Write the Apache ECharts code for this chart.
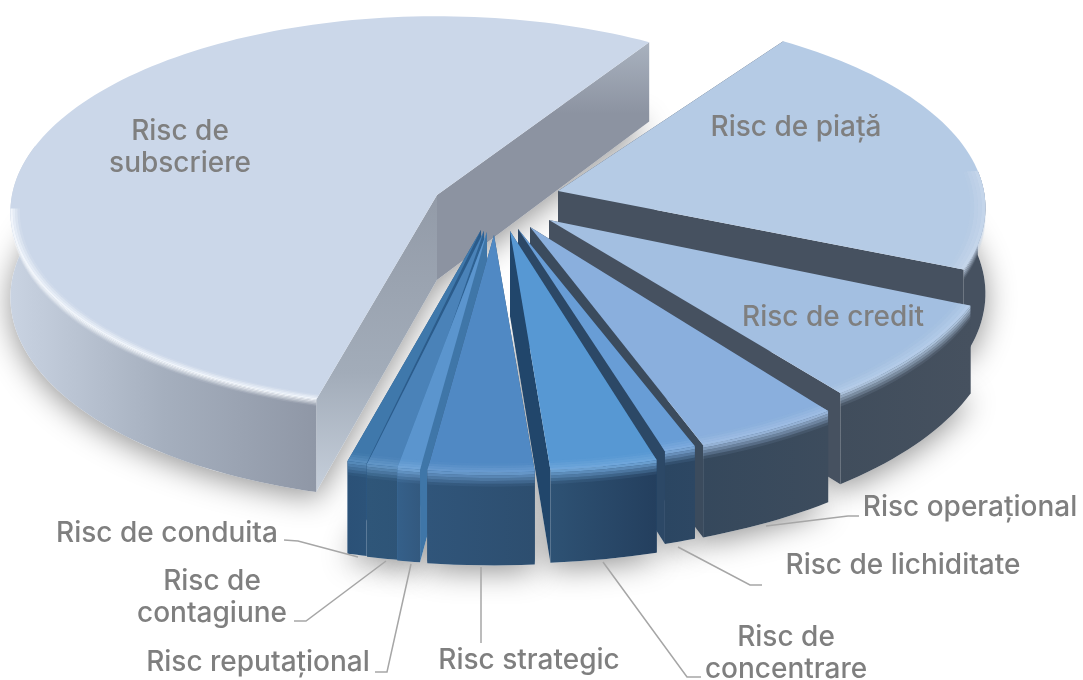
<!DOCTYPE html>
<html>
<head>
<meta charset="utf-8">
<style>html,body{margin:0;padding:0;background:#fff}#container{width:1083px;height:680px}</style>
<script src="https://cdn.jsdelivr.net/npm/echarts@6/dist/echarts.min.js"></script>
</head>
<body>
<div id="container"></div>
<script>
var dom = document.getElementById('container');
var myChart = echarts.init(dom, null, { renderer: 'canvas', useDirtyRect: false });

// clockwise on screen, starting at the far edge of Risc de piata
var categories = ['Risc de piață', 'Risc de credit', 'Risc operațional', 'Risc de lichiditate', 'Risc de concentrare',
    'Risc strategic', 'Risc reputațional', 'Risc de contagiune', 'Risc de conduita', 'Risc de subscriere'];
var shareValues = [21.8, 7.9, 4.6, 1.0, 3.3, 3.3, 0.7, 1.1, 0.6, 54.8];

// tilted disc
var startAngle = -55.5;
var discX = 428, discY = 195.5, tilt = 0.086, depth = 85;

// where each exploded slice has its tip, its size and small angle correction
var tipX = [558, 549, 530, 518, 510, 494, 487, 484, 481, 437];
var tipY = [191, 220, 227, 229, 231, 235, 232, 231, 230, 195];
var sliceScale = [0.995, 1.04, 1.09, 1.09, 1.12, 1.11, 1.12, 1.12, 1.12, 0.993];
var angleNudge = [0, 1, 2.08, 1.62, 2.12, 2.04, 2, 1.1, 0.8, 1.12];
var paintOrder = [9, 0, 1, 2, 3, 4, 8, 7, 6, 5];

var topColors = ['#b5cbe5', '#a3bfe1', '#8aafdd', '#689dd6', '#5798d3', '#5089c4', '#5b95ce', '#4a82b8', '#3f78ab', '#cbd7e9'];
var rimColors = ['#c6d6ea', '#b6cde8', '#a0bee3', '#82aedf', '#72a8dc', '#6b9dd0', '#73a6d8', '#6598c8', '#5a8fbf', '#f6f9fd'];
var bevelSize = [10, 13, 13, 13, 13, 13, 13, 13, 13, 6];
var faceColors = ['#465160', '#465160', '#3b4b5d', '#2c4866', '#21466b', '#2f5274', '#3f76a8', '#2e6192', '#2b5b8a', '#9ea8b5'];
var endFaceColors = ['#465160', '#465160', '#3b4b5d', '#2c4866', '#21466b', '#2f5274', '#3f76a8', '#2e6192', '#2b5b8a', '#8b92a0'];
var wallColors = [
    ['#465160', '#465160'], ['#404d5c', '#46515f'], ['#35485c', '#3d4c5d'], ['#2b4662', '#2d4763'], ['#2e5274', '#243f5e'],
    ['#30557a', '#2d4e6f'], ['#35608a', '#33597f'], ['#2f5679', '#2e5477'], ['#2b5177', '#2c5379'], ['#c9d3e2', '#a5afbe', '#8f97a6']
];

var labelLines = [
    { text: ['Risc de piață'], x: 796, y: 128 },
    { text: ['Risc de credit'], x: 833, y: 318 },
    { text: ['Risc operațional'], x: 970, y: 508 },
    { text: ['Risc de lichiditate'], x: 903, y: 566 },
    { text: ['Risc de', 'concentrare'], x: 786, y: 638 },
    { text: ['Risc strategic'], x: 529, y: 661 },
    { text: ['Risc reputațional'], x: 258, y: 663 },
    { text: ['Risc de', 'contagiune'], x: 212, y: 582 },
    { text: ['Risc de conduita'], x: 167, y: 534 },
    { text: ['Risc de', 'subscriere'], x: 180, y: 132 }
];
var leaderLines = [
    [[859, 516], [848, 516], [766, 526]],
    [[762, 585], [750, 585], [678, 547]],
    [[701, 677], [687, 677], [603, 562]],
    [[481, 643], [481, 567]],
    [[375, 672], [387, 672], [411, 564]],
    [[294, 621], [306, 621], [386, 561]],
    [[284, 540], [298, 541], [358, 557]]
];

var total = 100;

function sliceAngles(i) {
    var a = startAngle;
    for (var n = 0; n < i; n++) {
        a += shareValues[n] / total * 360;
    }
    return [a + angleNudge[i], a + angleNudge[i] + shareValues[i] / total * 360];
}

// disc point -> screen, with a bit of perspective
function project(i, deg, r) {
    var t = deg * Math.PI / 180;
    var X = r * Math.cos(t), Y = r * Math.sin(t);
    var p = 1 / (1 - tilt * Y);
    return [tipX[i] + discX * sliceScale[i] * X * p, tipY[i] + discY * sliceScale[i] * Y * p, p];
}

function arc(i, a0, a1, r, drop) {
    var pts = [];
    var n = Math.max(4, Math.ceil(Math.abs(a1 - a0) / 1.5));
    for (var k = 0; k <= n; k++) {
        var q = project(i, a0 + (a1 - a0) * k / n, r);
        pts.push([q[0], q[1] + drop * q[2]]);
    }
    return pts;
}

function poly(points, style, z2) {
    return { type: 'polygon', shape: { points: points }, style: style, z2: z2, silent: true };
}

function cutFace(i, deg, fill, z2) {
    var rim = project(i, deg, 1);
    return poly([
        [tipX[i], tipY[i]], [rim[0], rim[1]], [rim[0], rim[1] + depth * rim[2]], [tipX[i], tipY[i] + depth]
    ], { fill: fill }, z2);
}

function renderSlice(params, api) {
    var i = api.value(0);
    var ang = sliceAngles(i);
    var a0 = ang[0], a1 = ang[1];
    // only the part of the rim that faces the viewer gets a wall and a bevel
    var v0 = Math.max(a0, -6), v1 = Math.min(a1, 195);
    var b1 = Math.min(a1, 176);
    var base = paintOrder.indexOf(i) * 100;
    var kids = [];
    var startFill = faceColors[i], endFill = endFaceColors[i];
    if (i === 9) {
        startFill = new echarts.graphic.LinearGradient(0, 0, 0, 1, [{ offset: 0, color: '#939ba8' }, { offset: 0.6, color: '#a2acb9' }, { offset: 1, color: '#c6cfdb' }]);
        endFill = new echarts.graphic.LinearGradient(0, 0, 0, 1, [{ offset: 0, color: '#a9b2bf' }, { offset: 0.3, color: '#8c93a1' }, { offset: 1, color: '#8c93a1' }]);
    }
    kids.push(cutFace(i, a0, startFill, base + 1));
    kids.push(cutFace(i, a1, endFill, base + 2));

    // outer wall
    var upper = arc(i, v0, v1, 1, 0);
    var lower = arc(i, v0, v1, 1, depth).reverse();
    var stops = wallColors[i].map(function (c, n, all) {
        return { offset: n / (all.length - 1), color: c };
    });
    kids.push(poly(upper.concat(lower), {
        fill: new echarts.graphic.LinearGradient(0, 0, 1, 0, stops)
    }, base + 3));

    // soft bevel fading down the wall
    var steps = 5, bevel = bevelSize[i];
    for (var s = 0; s < steps; s++) {
        kids.push(poly(arc(i, v0, b1, 1, bevel * s / steps).concat(arc(i, v0, b1, 1, bevel * (s + 1) / steps).reverse()), {
            fill: rimColors[i], opacity: 1 - (s + 0.5) / steps
        }, base + 4 + s));
    }

    // top face
    kids.push(poly([[tipX[i], tipY[i]]].concat(arc(i, a0, a1, 1, 0)), { fill: topColors[i] }, base + 20));

    // and fading in on the top face
    var band = i === 9 ? 0.022 : 0.035;
    for (var b = 0; b < 4; b++) {
        var r0 = 1 - band + band * b / 4, r1 = 1 - band + band * (b + 1) / 4;
        kids.push(poly(arc(i, v0, b1, r0, 0).concat(arc(i, v0, b1, r1, 0).reverse()), {
            fill: rimColors[i], opacity: (b + 0.5) / 4
        }, base + 21 + b));
    }
    return { type: 'group', children: kids };
}

function renderShadow(params, api) {
    var i = api.value(0);
    var ang = sliceAngles(i);
    var pts = [[tipX[i], tipY[i] + depth]].concat(arc(i, ang[0], ang[1], 1, depth));
    return poly(pts, {
        fill: '#fff', shadowBlur: 30, shadowColor: 'rgba(0,0,0,0.42)', shadowOffsetY: 6
    }, 0);
}

var rows = categories.map(function (name, i) {
    return [i, shareValues[i], name];
});

var graphics = [];
leaderLines.forEach(function (pts) {
    graphics.push({
        type: 'polyline', z: 50, silent: true, shape: { points: pts },
        style: { stroke: '#a6a6a6', lineWidth: 1.5, fill: null }
    });
});
labelLines.forEach(function (lab) {
    lab.text.forEach(function (line, n) {
        graphics.push({
            type: 'text', z: 50, silent: true, x: lab.x, y: lab.y + n * 32,
            style: {
                text: line, fill: '#7f7f7f', font: '500 28px Inter, "Noto Sans", sans-serif',
                align: 'center', verticalAlign: 'middle'
            }
        });
    });
});

var option = {
    animation: false,
    backgroundColor: '#fff',
    tooltip: { show: false },
    graphic: graphics,
    series: [
        { type: 'custom', coordinateSystem: 'none', silent: true, z: 1, renderItem: renderShadow, data: rows },
        { type: 'custom', coordinateSystem: 'none', silent: true, z: 2, renderItem: renderSlice, data: rows }
    ]
};

myChart.setOption(option);
window.addEventListener('resize', myChart.resize);
</script>
</body>
</html>
